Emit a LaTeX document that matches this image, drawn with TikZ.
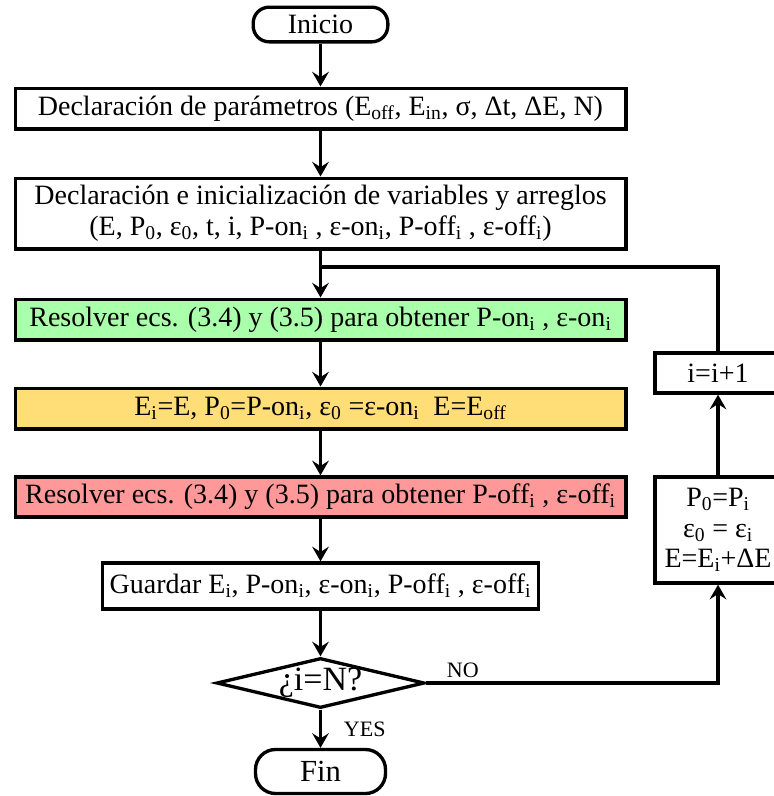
\documentclass[tikz,border=0pt]{standalone}
\usepackage{fontspec}
\setmainfont{Liberation Serif}
\usetikzlibrary{arrows.meta,shapes.geometric}
\newcommand\sbs[1]{\textsubscript{#1}}
\definecolor{gfill}{RGB}{170,255,170}
\definecolor{yfill}{RGB}{255,221,119}
\definecolor{rfill}{RGB}{255,153,153}
\tikzset{
  boxfont/.style={font=\fontsize{21}{23}\selectfont},
  procbox/.style={draw, line width=2.5pt, rectangle, inner sep=0pt, align=center, boxfont},
  term/.style={draw, line width=2.5pt, rectangle, inner sep=0pt},
  decis/.style={draw, line width=2.5pt, diamond, inner sep=0pt, minimum width=156pt, minimum height=37.5pt, shape aspect=4.16, font=\fontsize{25.5}{28}\selectfont},
  plainline/.style={line width=2.5pt},
  arr/.style={line width=2.5pt, -{Stealth[length=11pt,width=12.5pt,inset=4pt]}},
  lbl/.style={font=\fontsize{16.5}{19}\selectfont}
}
\begin{document}
\begin{tikzpicture}[x=0.75pt,y=-0.75pt]
\useasboundingbox (0,0) rectangle (774,796);
\node[term, minimum width=101pt, minimum height=26pt, rounded corners=12pt, font=\fontsize{21}{24}\selectfont] (ini) at (320.5,24.5) {Inicio};
\node[procbox, minimum width=458pt, minimum height=30.5pt] (par) at (320.5,108.5)
  {Declaración de parámetros (E\sbs{off}, E\sbs{in}, σ, Δt, ΔE, N)};
\node[procbox, minimum width=458pt, minimum height=53pt] (var) at (320.5,213.5)
  {Declaración e inicialización de variables y arreglos\\(E, P\sbs{0}, ε\sbs{0}, t, i, P-on\sbs{i} , ε-on\sbs{i}, P-off\sbs{i} , ε-off\sbs{i})};
\coordinate (join) at (320.5,267);
\node[procbox, fill=gfill, minimum width=458pt, minimum height=30.5pt] (on) at (320.5,319.5)
  {Resolver ecs. (3.4) y (3.5) para obtener P-on\sbs{i} , ε-on\sbs{i}};
\node[procbox, fill=yfill, minimum width=458pt, minimum height=30.5pt] (asg) at (320.5,408.5)
  {E\sbs{i}=E, P\sbs{0}=P-on\sbs{i}, ε\sbs{0} =ε-on\sbs{i}\ \ E=E\sbs{off}};
\node[procbox, fill=rfill, minimum width=458pt, minimum height=30pt] (off) at (320.5,497)
  {Resolver ecs. (3.4) y (3.5) para obtener P-off\sbs{i} , ε-off\sbs{i}};
\node[procbox, minimum width=327pt, minimum height=34.5pt] (sav) at (320.5,586)
  {Guardar E\sbs{i}, P-on\sbs{i}, ε-on\sbs{i}, P-off\sbs{i} , ε-off\sbs{i}};
\node[decis] (dec) at (320.5,683) {¿i=N?};
\node[term, minimum width=97.5pt, minimum height=33pt, rounded corners=15pt, font=\fontsize{23}{26}\selectfont] (fin) at (320.5,771.5) {Fin};
\node[procbox, minimum width=94.5pt, minimum height=79.5pt, font=\fontsize{21}{23}\selectfont] (upd) at (718,530)
  {P\sbs{0}=P\sbs{i}\\ε\sbs{0} = ε\sbs{i}\\E=E\sbs{i}+ΔE};
\node[procbox, minimum width=94.5pt, minimum height=30pt] (inc) at (718,373) {i=i+1};

\draw[arr] (ini) -- (par);
\draw[arr] (par) -- (var);
\draw[plainline] (var) -- (join);
\draw[arr] (join) -- (on);
\draw[arr] (on) -- (asg);
\draw[arr] (asg) -- (off);
\draw[arr] (off) -- (sav);
\draw[arr] (sav) -- (dec);
\draw[arr] (dec) -- node[lbl, pos=0.7, anchor=base west, xshift=13pt] {YES} (fin);
\draw[arr] (dec.east) -- node[lbl, pos=0, anchor=base west, xshift=11pt, yshift=4pt] {NO} (dec.east -| upd.south) -- (upd.south);
\draw[arr] (upd) -- (inc);
\draw[plainline] (inc.north) |- (join);
\end{tikzpicture}
\end{document}
